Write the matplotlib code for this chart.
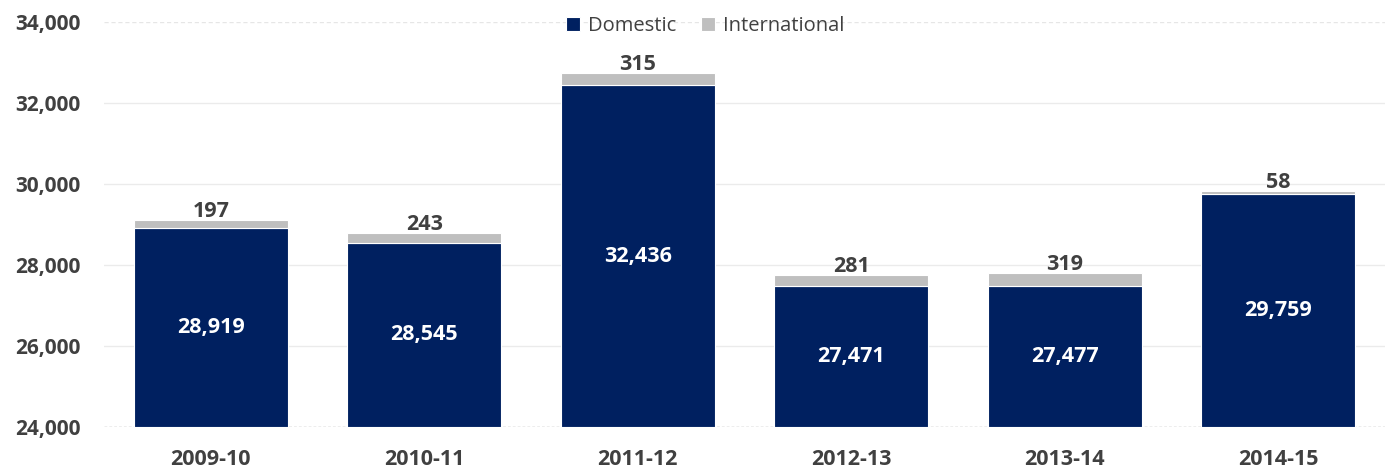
import matplotlib.pyplot as plt
from matplotlib.ticker import FuncFormatter

years = ['2009-10', '2010-11', '2011-12', '2012-13', '2013-14', '2014-15']
domestic = [28919, 28545, 32436, 27471, 27477, 29759]
international = [197, 243, 315, 281, 319, 58]

ymin, ymax = 24000, 34000
navy = '#002060'
grey = '#BFBFBF'
txt = '#404040'

plt.rcParams['font.family'] = ['Open Sans', 'DejaVu Sans']

fig = plt.figure(figsize=(13.9, 4.72), dpi=100)
ax = fig.add_axes([0.0748, 0.0953, 0.9216, 0.8581])

x = range(len(years))
ax.bar(x, [d - ymin for d in domestic], bottom=ymin, width=0.72, color=navy,
       edgecolor='white', linewidth=0.8, label='Domestic', zorder=3)
ax.bar(x, international, bottom=domestic, width=0.72, color=grey,
       edgecolor='white', linewidth=0.8, label='International', zorder=3)

for i in x:
    ax.text(i, (ymin + domestic[i]) / 2, f'{domestic[i]:,}', ha='center', va='center',
            color='white', fontsize=15.5, fontweight='bold', zorder=4)
    ax.text(i, domestic[i] + international[i] - 50, f'{international[i]:,}', ha='center',
            va='bottom', color=txt, fontsize=15.5, fontweight='bold', zorder=4)

ax.set_xlim(-0.5, len(years) - 0.5)
ax.set_ylim(ymin, ymax)
ax.set_yticks(range(ymin, ymax + 1, 2000))
ax.yaxis.set_major_formatter(FuncFormatter(lambda v, p: f'{int(v):,}'))
ax.set_xticks(list(x))
ax.set_xticklabels(years)

for t in range(ymin + 2000, ymax, 2000):
    ax.axhline(t, color='#EBEBEB', linewidth=1, zorder=1)
ax.axhline(ymax, color='#E6E6E6', linewidth=1, linestyle=(0, (3, 2)), zorder=1)
ax.axhline(ymin, color='#A6A6A6', linewidth=1, linestyle=(0, (2, 1.5)), zorder=2)

for s in ax.spines.values():
    s.set_visible(False)
ax.tick_params(length=0, labelsize=15, labelcolor=txt)
ax.tick_params(axis='y', pad=17)
ax.tick_params(axis='x', pad=16, labelsize=15.5)
for lab in ax.get_xticklabels() + ax.get_yticklabels():
    lab.set_fontweight('bold')

leg = fig.legend(loc='center', bbox_to_anchor=(705 / 1390, 1 - 26 / 472), ncol=2, frameon=False,
                 fontsize=14.5, handlelength=0.7, handleheight=0.7, handletextpad=0.4,
                 columnspacing=1.2, labelcolor=txt)

fig.savefig('out.png', dpi=100)
